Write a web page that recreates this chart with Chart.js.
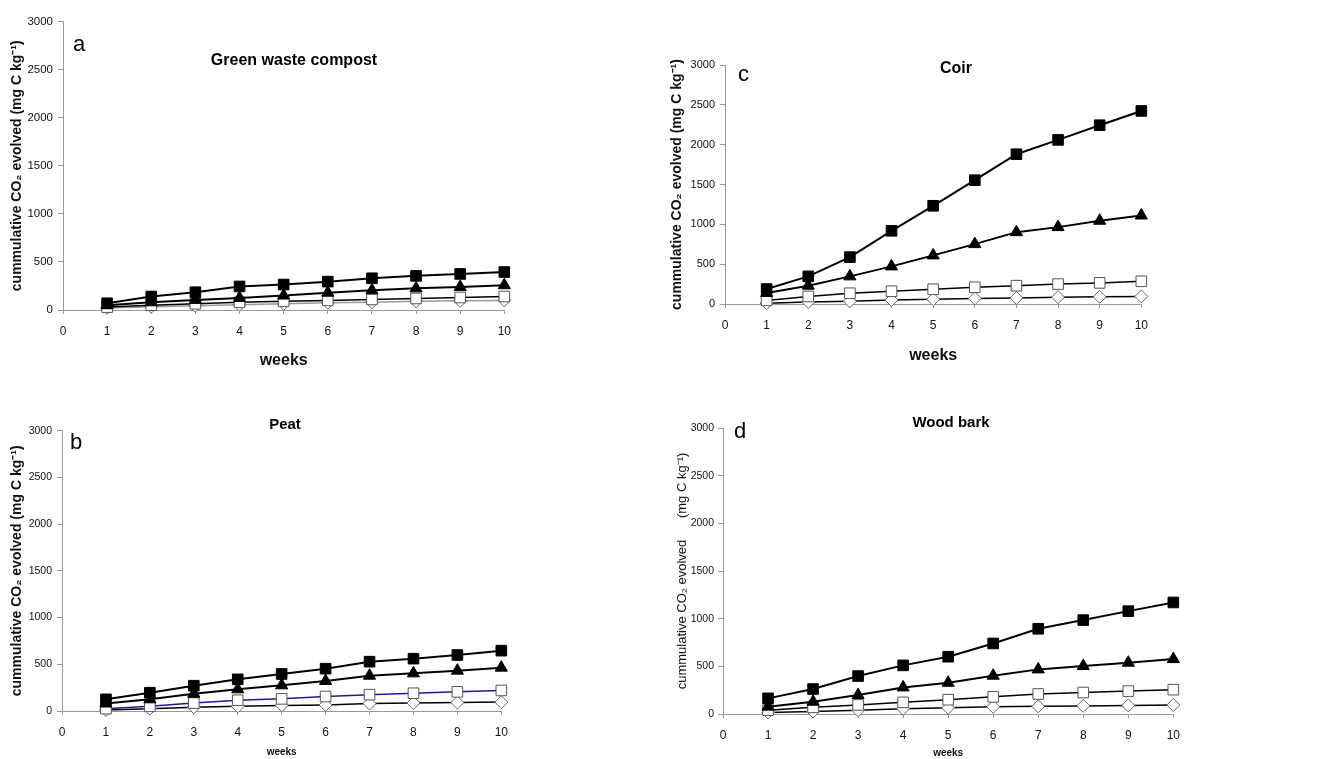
<!DOCTYPE html>
<html>
<head>
<meta charset="utf-8">
<script src="https://cdn.jsdelivr.net/npm/chart.js@4.4.1/dist/chart.umd.min.js"></script>
<style>
    html, body { margin: 0; padding: 0; background: #fff; }
    body { width: 1317px; height: 759px; position: relative; overflow: hidden; }
    canvas { position: absolute; }
</style>
</head>
<body>
<canvas id="chartA" style="left:0px;top:0px;width:521px;height:380px" width="521" height="380"></canvas>
<canvas id="chartC" style="left:660px;top:0px;width:498px;height:380px" width="498" height="380"></canvas>
<canvas id="chartB" style="left:0px;top:380px;width:518px;height:379px" width="518" height="379"></canvas>
<canvas id="chartD" style="left:660px;top:380px;width:530px;height:379px" width="530" height="379"></canvas>
<script>
// データ
const weeks = [1, 2, 3, 4, 5, 6, 7, 8, 9, 10];
const xTicks = [0, 1, 2, 3, 4, 5, 6, 7, 8, 9, 10];
const yTicks = [0, 500, 1000, 1500, 2000, 2500, 3000];

// a: Green waste compost
const gwcFilledSquare = [70, 140, 185, 245, 265, 295, 330, 355, 375, 395];
const gwcFilledTriangle = [50, 80, 105, 125, 150, 180, 205, 225, 240, 258];
const gwcOpenSquare = [30, 50, 65, 80, 90, 100, 110, 120, 130, 140];
const gwcDiamond = [20, 35, 45, 55, 65, 75, 80, 90, 95, 100];

// c: Coir
const coirFilledSquare = [188, 347, 589, 919, 1233, 1554, 1880, 2060, 2244, 2423];
const coirFilledTriangle = [138, 230, 347, 472, 610, 752, 902, 965, 1045, 1111];
const coirOpenSquare = [45, 95, 135, 160, 185, 210, 230, 250, 265, 285];
const coirDiamond = [10, 25, 35, 50, 60, 70, 75, 85, 90, 95];

// b: Peat
const peatFilledSquare = [125, 196, 271, 339, 396, 453, 528, 560, 599, 646];
const peatFilledTriangle = [80, 125, 185, 232, 275, 321, 378, 403, 432, 464];
const peatOpenSquare = [25, 50, 85, 115, 130, 155, 175, 190, 205, 220];
const peatDiamond = [10, 25, 40, 50, 60, 65, 80, 85, 90, 95];

// d: Wood bark
const wbFilledSquare = [164, 262, 398, 510, 601, 740, 894, 985, 1079, 1170];
const wbFilledTriangle = [77, 129, 199, 279, 328, 402, 468, 503, 538, 576];
const wbOpenSquare = [40, 70, 95, 122, 150, 180, 210, 225, 240, 255];
const wbDiamond = [15, 25, 40, 55, 65, 75, 80, 85, 90, 95];

const FONT = '"Liberation Sans", Arial, sans-serif';
const Y_TITLE = 'cummulative CO\u2082 evolved (mg C kg\u207B\u00B9)';
const Y_TITLE_D = 'cummulative CO\u2082 evolved      (mg C kg\u207B\u00B9)';

// タイトルとパネル文字の描画
const panelText = {
    id: 'panelText',
    afterDraw(chart, args, o) {
        const ctx = chart.ctx;
        ctx.save();
        ctx.fillStyle = '#000';
        ctx.textBaseline = 'middle';
        ctx.textAlign = 'center';
        ctx.font = o.titleFont;
        ctx.fillText(o.title, o.titleX, o.titleY);
        ctx.textAlign = 'left';
        ctx.font = '22px ' + FONT;
        ctx.fillText(o.letter, o.letterX, o.letterY);
        ctx.restore();
    }
};

function toPoints(values) {
    return values.map((v, i) => ({ x: weeks[i], y: v }));
}

function makeDatasets(sq, tri, openSq, dia, openLine, diaLine) {
    return [
        { data: toPoints(sq), borderColor: '#000', borderWidth: 2, clip: false,
          pointStyle: 'rect', pointRadius: 7.5, pointBackgroundColor: '#000', pointBorderColor: '#000', pointBorderWidth: 1 },
        { data: toPoints(tri), borderColor: '#000', borderWidth: 2, clip: false,
          pointStyle: 'triangle', pointRadius: 7, pointBackgroundColor: '#000', pointBorderColor: '#000', pointBorderWidth: 1 },
        { data: toPoints(openSq), borderColor: openLine, borderWidth: 1.5, clip: false,
          pointStyle: 'rect', pointRadius: 7.5, pointBackgroundColor: '#fff', pointBorderColor: '#555', pointBorderWidth: 1 },
        { data: toPoints(dia), borderColor: diaLine, borderWidth: 1.5, clip: false,
          pointStyle: 'rectRot', pointRadius: 6.5, pointBackgroundColor: '#fff', pointBorderColor: '#666', pointBorderWidth: 1 }
    ];
}

function makePanel(id, p) {
    new Chart(document.getElementById(id), {
        type: 'line',
        data: { datasets: p.datasets },
        options: {
            responsive: false,
            animation: false,
            events: [],
            layout: { padding: { top: p.padTop, right: p.padRight, bottom: 0, left: 0 } },
            plugins: {
                legend: { display: false },
                tooltip: { enabled: false },
                panelText: p.text
            },
            scales: {
                x: {
                    type: 'linear', min: 0, max: 10,
                    afterFit: s => { s.height = p.xHeight; },
                    afterBuildTicks: s => { s.ticks = xTicks.map(v => ({ value: v })); },
                    grid: { drawOnChartArea: false, drawTicks: true, tickLength: 4, color: '#999' },
                    border: { display: true, color: '#999', width: 1 },
                    ticks: { color: '#111', font: { family: FONT, size: 12 }, padding: 10, maxRotation: 0,
                             callback: v => String(v) },
                    title: { display: true, text: 'weeks', color: '#111',
                             font: { family: FONT, size: p.weeksSize, weight: 'bold', lineHeight: 1.2 },
                             padding: { top: 0, bottom: p.weeksPad } }
                },
                y: {
                    min: 0, max: 3000,
                    afterFit: s => { s.width = p.yWidth; },
                    afterBuildTicks: s => { s.ticks = yTicks.map(v => ({ value: v })); },
                    grid: { drawOnChartArea: false, drawTicks: true, tickLength: 5, color: '#999' },
                    border: { display: true, color: '#999', width: 1 },
                    ticks: { color: '#111', font: { family: FONT, size: p.yTickSize }, padding: p.yTickPad,
                             callback: v => String(v) },
                    title: { display: true, text: p.yTitle, color: '#111',
                             font: { family: FONT, size: p.yTitleSize, weight: p.yTitleWeight, lineHeight: 1.2 },
                             padding: { top: p.yTitlePad, bottom: 0 } }
                }
            }
        },
        plugins: [panelText]
    });
}

function init() {
    makePanel('chartA', {
        datasets: makeDatasets(gwcFilledSquare, gwcFilledTriangle, gwcOpenSquare, gwcDiamond, '#000', '#999'),
        padTop: 21.5, padRight: 14, yWidth: 63, xHeight: 70, yTickSize: 11.5, yTickPad: 5,
        weeksSize: 16, weeksPad: 10, yTitle: Y_TITLE, yTitlePad: 8.5, yTitleSize: 14, yTitleWeight: 'bold',
        text: { title: 'Green waste compost', titleFont: 'bold 16px ' + FONT, titleX: 294, titleY: 61,
                letter: 'a', letterX: 73, letterY: 45 }
    });
    makePanel('chartC', {
        datasets: makeDatasets(coirFilledSquare, coirFilledTriangle, coirOpenSquare, coirDiamond, '#000', '#000'),
        padTop: 65, padRight: 15, yWidth: 65, xHeight: 76, yTickSize: 11, yTickPad: 5,
        weeksSize: 16, weeksPad: 15, yTitle: Y_TITLE, yTitlePad: 8.5, yTitleSize: 14, yTitleWeight: 'bold',
        text: { title: 'Coir', titleFont: 'bold 16px ' + FONT, titleX: 296, titleY: 69,
                letter: 'c', letterX: 78, letterY: 75 }
    });
    makePanel('chartB', {
        datasets: makeDatasets(peatFilledSquare, peatFilledTriangle, peatOpenSquare, peatDiamond, '#1c1c8c', '#000'),
        padTop: 50.7, padRight: 14, yWidth: 62, xHeight: 48, yTickSize: 10.5, yTickPad: 5,
        weeksSize: 10, weeksPad: 1, yTitle: Y_TITLE, yTitlePad: 8.5, yTitleSize: 14, yTitleWeight: 'bold',
        text: { title: 'Peat', titleFont: 'bold 15px ' + FONT, titleX: 285, titleY: 45,
                letter: 'b', letterX: 70, letterY: 63 }
    });
    makePanel('chartD', {
        datasets: makeDatasets(wbFilledSquare, wbFilledTriangle, wbOpenSquare, wbDiamond, '#000', '#000'),
        padTop: 48, padRight: 14, yWidth: 63, xHeight: 45, yTickSize: 10.5, yTickPad: 4,
        weeksSize: 10, weeksPad: 0, yTitle: Y_TITLE_D, yTitlePad: 14.5, yTitleSize: 13, yTitleWeight: 'normal',
        text: { title: 'Wood bark', titleFont: 'bold 15px ' + FONT, titleX: 291, titleY: 43,
                letter: 'd', letterX: 74, letterY: 52 }
    });
}

document.addEventListener('DOMContentLoaded', init);
</script>
</body>
</html>
